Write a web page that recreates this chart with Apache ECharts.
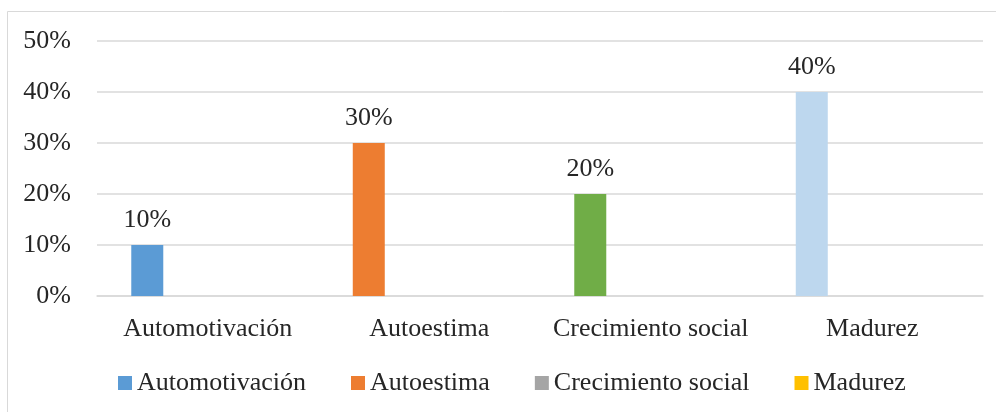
<!DOCTYPE html>
<html>
<head>
<meta charset="utf-8">
<script src="https://cdn.jsdelivr.net/npm/echarts@6/dist/echarts.min.js"></script>
<style>
  html, body { margin: 0; padding: 0; background: #fff; }
  #chart { width: 996px; height: 412px; }
</style>
</head>
<body>
<div id="chart"></div>
<script>
// categorias del eje x
var categories = ['Automotivación', 'Autoestima', 'Crecimiento social', 'Madurez'];
// nombres de las series (leyenda)
var seriesNames = ['Automotivación', 'Autoestima', 'Crecimiento social', 'Madurez'];
// valores de la primera serie (fracción)
var values = [0.10, 0.30, 0.20, 0.40];
// colores por barra y colores de la leyenda
var barColors = ['#5B9BD5', '#ED7D31', '#70AD47', '#BDD7EE'];
var legendColors = ['#5B9BD5', '#ED7D31', '#A5A5A5', '#FFC000'];
// marcas del eje y
var yTicks = [0, 0.1, 0.2, 0.3, 0.4, 0.5];

var font = '"Liberation Serif", "Times New Roman", serif';
var textColor = '#262626';
var fontSize = 26;

function pct(v) {
  return Math.round(v * 100) + '%';
}

var series = [];
for (var i = 0; i < seriesNames.length; i++) {
  var data = [];
  if (i == 0) {
    // la primera serie lleva todos los valores, con color por punto
    for (var j = 0; j < values.length; j++) {
      data.push({ value: values[j], itemStyle: { color: barColors[j] } });
    }
  } else {
    for (var k = 0; k < categories.length; k++) data.push(null);
  }
  series.push({
    name: seriesNames[i],
    type: 'bar',
    barWidth: 32,
    barGap: '26%',
    itemStyle: { color: legendColors[i] },
    label: {
      show: i == 0,
      position: 'top',
      distance: 12,
      fontFamily: font,
      fontSize: fontSize,
      color: textColor,
      formatter: function(p) { return pct(p.value); }
    },
    data: data
  });
}

var chart = echarts.init(document.getElementById('chart'));
var option = {
  animation: false,
  backgroundColor: '#fff',
  graphic: [{
    type: 'rect',
    shape: { x: 7.5, y: 11.5, width: 1000, height: 420 },
    style: { fill: 'none', stroke: '#d9d9d9', lineWidth: 1 },
    silent: true
  }],
  grid: {
    left: 97,
    right: 13,
    top: 41,
    bottom: 116
  },
  legend: {
    left: 113,
    top: 365,
    itemWidth: 14,
    itemHeight: 14,
    itemGap: 45,
    icon: 'rect',
    textStyle: { fontFamily: font, fontSize: fontSize, color: textColor },
    data: seriesNames.map(function(n, i) {
      return { name: n, itemStyle: { color: legendColors[i] } };
    })
  },
  xAxis: {
    type: 'category',
    data: categories,
    axisLine: { show: true, lineStyle: { color: '#d9d9d9', width: 1.5 } },
    axisTick: { show: false },
    axisLabel: {
      interval: 0,
      fontFamily: font,
      fontSize: fontSize,
      color: textColor,
      margin: 20
    }
  },
  yAxis: {
    type: 'value',
    min: yTicks[0],
    max: yTicks[yTicks.length - 1],
    interval: 0.1,
    axisLine: { show: false },
    axisTick: { show: false },
    splitLine: { lineStyle: { color: '#d9d9d9', width: 1.5 } },
    axisLabel: {
      fontFamily: font,
      fontSize: fontSize,
      color: textColor,
      margin: 26,
      formatter: pct
    }
  },
  series: series
};
chart.setOption(option);
</script>
</body>
</html>
